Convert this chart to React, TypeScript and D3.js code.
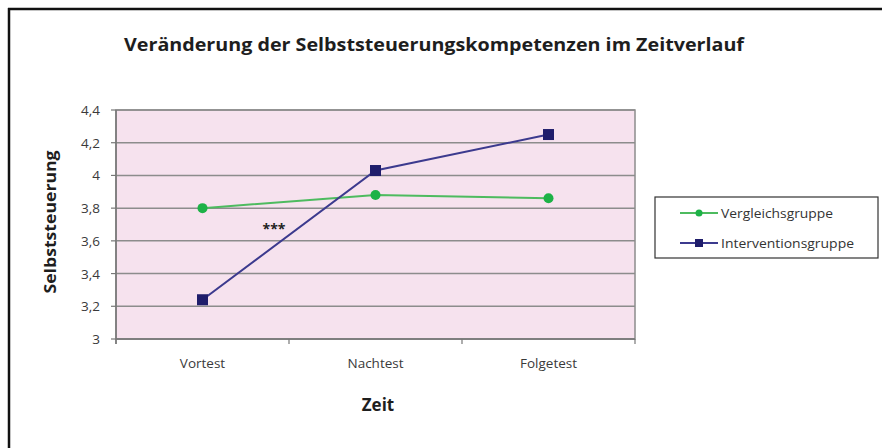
import React from "react";
import * as d3 from "d3";

const categories = ["Vortest", "Nachtest", "Folgetest"];
const vergleichsgruppe = [3.8, 3.88, 3.86];
const interventionsgruppe = [3.24, 4.03, 4.25];
const yTicks = [3, 3.2, 3.4, 3.6, 3.8, 4, 4.2, 4.4];
const seriesNames = ["Vergleichsgruppe", "Interventionsgruppe"];

const W = 882;
const H = 448;
const plot = { left: 116, right: 635, top: 110, bottom: 339 };
const FONT = "'Open Sans', 'Noto Sans', sans-serif";
const GREEN_LINE = "#4dbb5f";
const GREEN = "#1db247";
const NAVY_LINE = "#3c3a8e";
const NAVY = "#1f1d6b";

export default function App() {
  const x = d3.scaleBand<string>().domain(categories).range([plot.left, plot.right]);
  const y = d3.scaleLinear().domain([3, 4.4]).range([plot.bottom, plot.top]);
  const cx = (c: string) => (x(c) as number) + x.bandwidth() / 2;
  const line = d3
    .line<number>()
    .x((_, i) => cx(categories[i]))
    .y((d) => y(d));
  const fmt = (v: number) => String(v).replace(".", ",");
  const tickXs = [...categories.map((c) => x(c) as number), plot.right];

  return (
    <svg width={W} height={H} style={{ position: "absolute", left: 0, top: 0 }} fontFamily={FONT}>
      <rect x={0} y={0} width={W} height={H} fill="#fff" />
      {/* frame */}
      <line x1={8} y1={9} x2={W} y2={9} stroke="#111" strokeWidth={2.5} />
      <line x1={9} y1={8} x2={9} y2={H} stroke="#111" strokeWidth={2.5} />

      <text
        x={434}
        y={51}
        textAnchor="middle"
        fontSize={18.5}
        fontWeight="bold"
        fill="#1e1e1e"
        textLength={620}
        lengthAdjust="spacingAndGlyphs"
      >
        Veränderung der Selbststeuerungskompetenzen im Zeitverlauf
      </text>

      {/* plot area */}
      <rect
        x={plot.left}
        y={plot.top}
        width={plot.right - plot.left}
        height={plot.bottom - plot.top}
        fill="#f6e2ee"
        stroke="#8c8c8c"
        strokeWidth={1.5}
      />
      {yTicks.map((t) => (
        <g key={t}>
          <line x1={plot.left} x2={plot.right} y1={y(t)} y2={y(t)} stroke="#8c8c8c" strokeWidth={1.5} />
          <line x1={plot.left - 5} x2={plot.left} y1={y(t)} y2={y(t)} stroke="#777" strokeWidth={1.2} />
          <text x={100} y={y(t) + 5} textAnchor="end" fontSize={13.5} fill="#3a3a3a">
            {fmt(t)}
          </text>
        </g>
      ))}
      <line x1={plot.left} x2={plot.left} y1={plot.top} y2={plot.bottom + 5} stroke="#777" strokeWidth={1.5} />
      <line x1={plot.left} x2={plot.right} y1={plot.bottom} y2={plot.bottom} stroke="#777" strokeWidth={1.5} />
      {tickXs.map((tx, i) => (
        <line key={i} x1={tx} x2={tx} y1={plot.bottom} y2={plot.bottom + 5} stroke="#777" strokeWidth={1.2} />
      ))}
      {categories.map((c) => (
        <text key={c} x={cx(c)} y={368} textAnchor="middle" fontSize={13.5} fill="#3a3a3a">
          {c}
        </text>
      ))}

      <text x={378} y={411} textAnchor="middle" fontSize={17} fontWeight="bold" fill="#1e1e1e">
        Zeit
      </text>
      <text
        transform={`translate(56,222) rotate(-90)`}
        textAnchor="middle"
        fontSize={16}
        fontWeight="bold"
        fill="#1e1e1e"
        textLength={143}
        lengthAdjust="spacingAndGlyphs"
      >
        Selbststeuerung
      </text>

      {/* series */}
      <path d={line(vergleichsgruppe) as string} fill="none" stroke={GREEN_LINE} strokeWidth={2} />
      <path d={line(interventionsgruppe) as string} fill="none" stroke={NAVY_LINE} strokeWidth={2} />
      {vergleichsgruppe.map((v, i) => (
        <circle key={i} cx={cx(categories[i])} cy={y(v)} r={5} fill={GREEN} />
      ))}
      {interventionsgruppe.map((v, i) => (
        <rect key={i} x={cx(categories[i]) - 5.5} y={y(v) - 5.5} width={11} height={11} fill={NAVY} />
      ))}

      <text x={274} y={234} textAnchor="middle" fontSize={14} fontWeight="bold" fill="#222">
        ***
      </text>

      {/* legend */}
      <rect x={655} y={197} width={223} height={61} fill="#fff" stroke="#333" strokeWidth={1.2} />
      <line x1={680} x2={718} y1={213} y2={213} stroke={GREEN_LINE} strokeWidth={2} />
      <circle cx={699} cy={213} r={3.5} fill={GREEN} />
      <text x={721} y={217.5} fontSize={12.5} fill="#333" textLength={112} lengthAdjust="spacingAndGlyphs">
        {seriesNames[0]}
      </text>
      <line x1={680} x2={718} y1={243} y2={243} stroke={NAVY_LINE} strokeWidth={2} />
      <rect x={695} y={239} width={8} height={8} fill={NAVY} />
      <text x={721} y={247.5} fontSize={12.5} fill="#333" textLength={133} lengthAdjust="spacingAndGlyphs">
        {seriesNames[1]}
      </text>
    </svg>
  );
}
